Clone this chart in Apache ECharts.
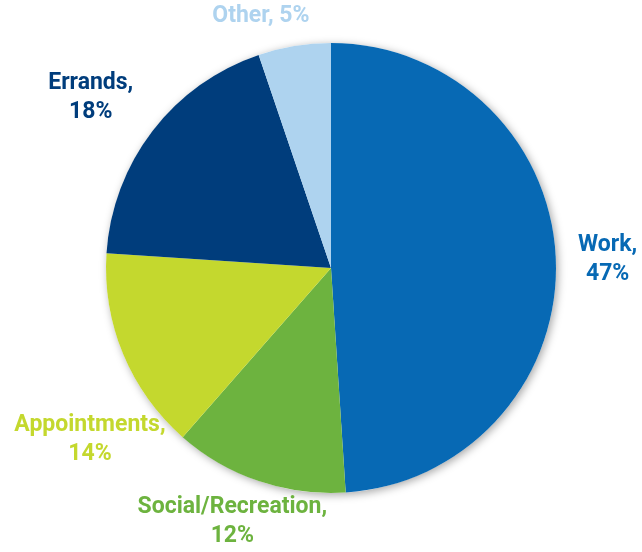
<!DOCTYPE html>
<html>
<head>
<meta charset="utf-8">
<script src="https://cdn.jsdelivr.net/npm/echarts@6/dist/echarts.min.js"></script>
<style>html,body{margin:0;padding:0;background:#fff}#c{width:642px;height:552px}</style>
</head>
<body>
<div id="c"></div>
<script>
const categories = ['Work', 'Social/Recreation', 'Appointments', 'Errands', 'Other'];
const values = [47, 12, 14, 18, 5];
const colors = ['#0769B4', '#6DB33F', '#C4D82E', '#003D7C', '#AED3EF'];

const CX = 331, CY = 268, R = 225;
// label anchor: radial distance factor for each slice, plus small angular tweak (deg)
const labelRadius = [1.23, 1.21, 1.316, 1.31, 1.16];
const labelAngleShift = [0.2, 2.5, -13, -2.1, -6.2];

const total = values.reduce((a, b) => a + b, 0);
const mids = [];
let acc = 0;
values.forEach(v => { mids.push((acc + v / 2) / total * 360); acc += v; });

const chart = echarts.init(document.getElementById('c'), null, {renderer: 'canvas'});
chart.setOption({
  backgroundColor: '#fff',
  animation: false,
  series: [
    {
      type: 'pie',
      center: [CX, CY],
      radius: [0, R],
      silent: true,
      z: 1,
      label: {show: false},
      labelLine: {show: false},
      itemStyle: {color: '#fff', shadowBlur: 8, shadowColor: 'rgba(0,0,0,0.35)', shadowOffsetX: 2, shadowOffsetY: 2},
      data: [total]
    },
    {
      type: 'pie',
      center: [CX, CY],
      radius: [0, R],
      startAngle: 90,
      clockwise: true,
      z: 2,
      itemStyle: {borderWidth: 0},
      labelLine: {show: false},
      label: {
        show: true,
        position: 'outside',
        overflow: 'none',
        bleedMargin: 0,
        fontFamily: 'Roboto, sans-serif',
        fontStyle: 'normal',
        fontWeight: 'bold',
        fontSize: 23,
        lineHeight: 29,
        align: 'center',
        formatter: p => p.dataIndex === 4 ? p.name + ', ' + p.value + '%' : p.name + ',\n' + p.value + '%'
      },
      labelLayout: function (p) {
        const i = p.dataIndex;
        const a = (mids[i] + labelAngleShift[i]) * Math.PI / 180;
        const d = R * labelRadius[i];
        return {
          x: CX + Math.sin(a) * d,
          y: CY - Math.cos(a) * d,
          align: 'center',
          verticalAlign: 'middle'
        };
      },
      data: categories.map((n, i) => ({
        name: n,
        value: values[i],
        itemStyle: {color: colors[i]},
        label: {color: colors[i]}
      }))
    }
  ]
});
</script>
</body>
</html>
